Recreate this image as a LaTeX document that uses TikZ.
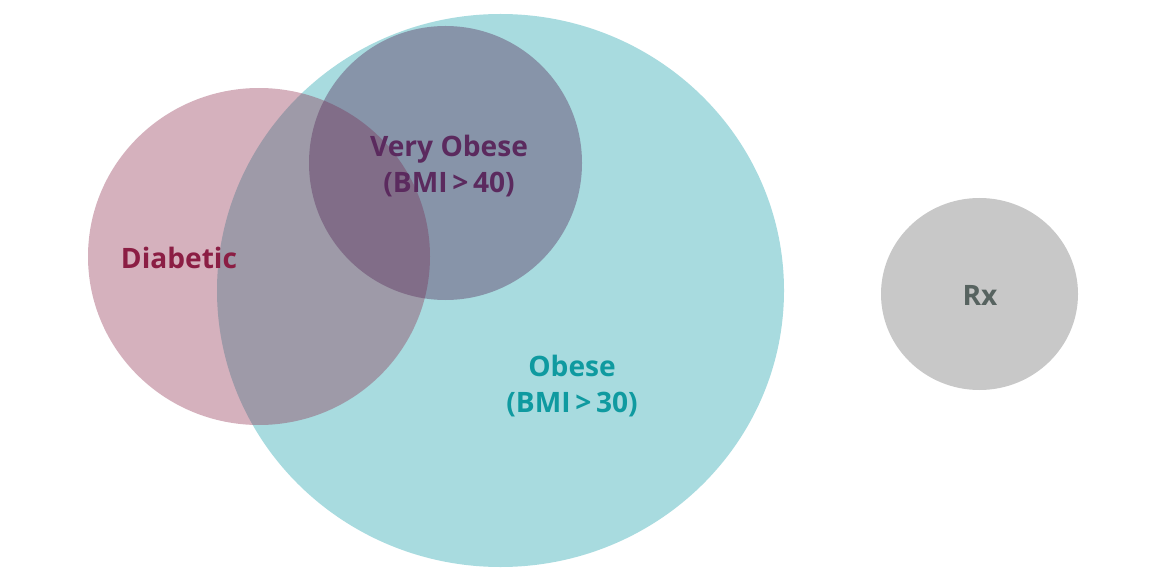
\documentclass[tikz,border=0pt]{standalone}
\usepackage{fontspec}
\setmainfont{Open Sans}
\usepackage{tikz}

\definecolor{obesefill}{HTML}{A8DBDF}
\definecolor{diabfill}{RGB}{141,43,76}
\definecolor{veryfill}{RGB}{86,43,90}
\definecolor{rxfill}{HTML}{C8C8C8}
\definecolor{diabtext}{HTML}{8B1E44}
\definecolor{verytext}{HTML}{5B2A5E}
\definecolor{obesetext}{HTML}{0F9AA0}
\definecolor{rxtext}{HTML}{576360}

\begin{document}
\begin{tikzpicture}[
  label/.style={font=\fontsize{16}{21}\selectfont\bfseries,align=center}]
\useasboundingbox (0,0) rectangle (23.04,11.54);
\fill[obesefill] (10.01,5.73) ellipse [x radius=5.67,y radius=5.53];
\fill[diabfill,opacity=0.37] (5.18,6.41) ellipse [x radius=3.42,y radius=3.37];
\fill[veryfill,opacity=0.4] (8.91,8.28) ellipse [x radius=2.73,y radius=2.74];
\fill[rxfill] (19.59,5.66) ellipse [x radius=1.97,y radius=1.92];
\node[label,text=diabtext] (diabetic) at (3.58,6.39) {Diabetic};
\node[label,text=verytext] (veryobese) at (8.98,8.22) {Very Obese\\(BMI\,>\,40)};
\node[label,text=obesetext] (obese) at (11.44,3.82) {Obese\\(BMI\,>\,30)};
\node[label,text=rxtext] (rx) at (19.6,5.63) {Rx};
\end{tikzpicture}
\end{document}
